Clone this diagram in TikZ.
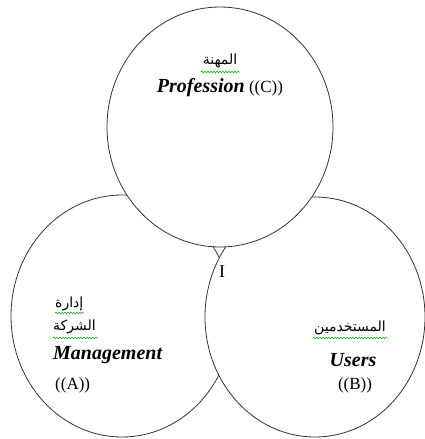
\documentclass[tikz,border=0pt]{standalone}
\usepackage{fontspec}
\setmainfont{Liberation Serif}
\newfontfamily\arabicfont[Script=Arabic]{DejaVu Sans}
\TeXXeTstate=1
\usetikzlibrary{shapes.geometric,decorations.pathmorphing}
\tikzset{
  circ/.style={ellipse, draw=black!80, line width=0.8pt, fill=white, inner sep=0pt},
  ar/.style={inner sep=0pt, font=\arabicfont\fontsize{14}{16}\selectfont},
  lat/.style={inner sep=0pt, font=\fontsize{17}{20}\selectfont},
  squig/.style={draw=green!65!black, line width=0.5pt, decorate, decoration={snake, segment length=3pt, amplitude=0.9pt}}
}
\newcommand{\bi}[1]{{\fontsize{20}{22}\selectfont\bfseries\itshape #1}}
\begin{document}
\begin{tikzpicture}[x=1pt,y=-1pt]
\useasboundingbox (0,0) rectangle (425,439);
\node[circ, minimum width=222pt, minimum height=242pt] (A) at (122,316) {};
\node[circ, minimum width=220pt, minimum height=240pt] (B) at (315,317) {};
\node[circ, minimum width=226pt, minimum height=240pt] (C) at (220,127) {};
% top
\node[ar] (arC) at (220,61) {\beginR المهنة\endR};
\coordinate (sc1) at (201,72); \coordinate (sc2) at (240,72);
\draw[squig] (sc1) -- (sc2);
\node[lat] (profC) at (220,88) {\bi{Profession} ((C))};
% intersection
\node[inner sep=0pt, font=\fontsize{18}{20}\selectfont] (I) at (222,272) {I};
% bottom left
\node[ar, anchor=west] (arA1) at (55,304) {\beginR إدارة\endR};
\coordinate (sa1) at (55,313); \coordinate (sa2) at (84,313);
\draw[squig] (sa1) -- (sa2);
\node[ar, anchor=west] (arA2) at (53,327) {\beginR الشركة\endR};
\coordinate (sa3) at (53,338); \coordinate (sa4) at (98,338);
\draw[squig] (sa3) -- (sa4);
\node[lat, anchor=west] (mgmt) at (53,355) {\bi{Management}};
\node[lat, anchor=west] (labA) at (55,385) {((A))};
% bottom right
\node[ar] (arB) at (350,328) {\beginR المستخدمين\endR};
\coordinate (sb1) at (313,338); \coordinate (sb2) at (388,338);
\draw[squig] (sb1) -- (sb2);
\node[lat] (users) at (353,360) {\bi{Users}};
\node[lat] (labB) at (355,385) {((B))};
\end{tikzpicture}
\end{document}
